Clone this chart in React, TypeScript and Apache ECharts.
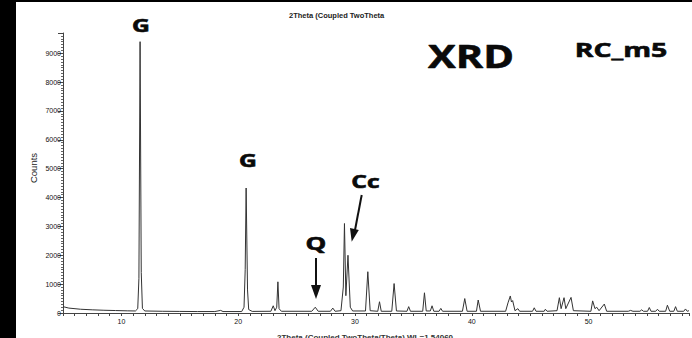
import React, { useEffect, useRef } from "react";
import * as echarts from "echarts";

const twoTheta = [
  5.0, 5.5, 6.5, 7.5, 8.5, 9.5, 10.5, 11.2, 11.4, 11.5, 11.6, 11.7, 11.8, 12.0,
  13.5, 15.0, 16.5, 18.0, 18.5, 18.7, 20.3, 20.5, 20.6, 20.68, 20.8, 20.9, 21.2,
  22.8, 23.0, 23.15, 23.3, 23.4, 23.5, 23.7,
  26.3, 26.6, 26.85, 27.9, 28.1, 28.3, 28.8, 29.0, 29.1, 29.22, 29.4, 29.6, 29.8,
  30.9, 31.1, 31.3, 31.95, 32.1, 32.25, 33.15, 33.35, 33.55, 34.45, 34.6, 34.75,
  35.8, 35.95, 36.1, 36.45, 36.6, 36.75, 37.2, 37.35, 37.5,
  39.2, 39.4, 39.6, 40.4, 40.55, 40.75,
  42.9, 43.1, 43.3, 43.4, 43.5, 43.7, 43.95, 44.1, 45.2, 45.35, 45.5, 46.2, 46.3, 46.45,
  47.3, 47.5, 47.65, 47.9, 48.05, 48.5, 48.7,
  50.2, 50.35, 50.55, 50.7, 50.9, 51.35, 51.55,
  53.4, 53.6, 53.8, 54.4, 54.55, 54.7, 55.05, 55.2, 55.35, 55.75, 55.9, 56.05,
  56.6, 56.75, 56.95, 57.3, 57.45, 57.6, 58.15, 58.3, 58.45, 58.6,
];
const counts = [
  220, 170, 130, 110, 95, 85, 75, 70, 150, 1200, 9400, 1400, 160, 70,
  60, 55, 50, 50, 90, 50, 50, 200, 1500, 4330, 800, 120, 55,
  60, 250, 80, 200, 1080, 150, 60,
  60, 200, 60, 60, 170, 60, 80, 900, 3100, 600, 2000, 200, 70,
  70, 1430, 80, 60, 390, 60, 60, 1020, 70, 60, 220, 60,
  60, 700, 70, 70, 250, 60, 60, 160, 60,
  60, 500, 60, 60, 450, 60,
  60, 350, 590, 380, 430, 80, 150, 60, 60, 180, 60, 60, 130, 60,
  80, 530, 150, 530, 150, 540, 80,
  60, 420, 150, 200, 80, 310, 60,
  60, 90, 60, 60, 110, 60, 60, 190, 60, 60, 130, 60,
  60, 270, 60, 60, 220, 60, 60, 140, 60, 80,
];

const xTickLabels = [10, 20, 30, 40, 50];
const yTickLabels = [0, 1000, 2000, 3000, 4000, 5000, 6000, 7000, 8000, 9000];

const phaseLabels = [
  { text: "G", x: 141, y: 25, size: 17 },
  { text: "G", x: 248, y: 160, size: 17 },
  { text: "Q", x: 316, y: 243, size: 18 },
  { text: "Cc", x: 365.5, y: 181, size: 17 },
];

export default function App() {
  const ref = useRef<HTMLDivElement>(null);
  useEffect(() => {
    if (!ref.current) return;
    const chart = echarts.init(ref.current, null, { renderer: "svg" });
    const data = twoTheta.map((t, i) => [t, counts[i]]);
    const boldFont = (size: number) => `bold ${size}px "Open Sans", "Noto Sans", sans-serif`;
    const textEl = (text: string, x: number, y: number, size: number, sx = 1.45) => ({
      type: "text",
      x,
      y,
      scaleX: sx,
      z: 100,
      style: {
        text,
        font: boldFont(size),
        fill: "#0a0a0a",
        stroke: "#0a0a0a",
        lineWidth: 0.6,
        align: "center",
        verticalAlign: "middle",
        textAlign: "center",
        textVerticalAlign: "middle",
      },
    });
    chart.setOption({
      animation: false,
      backgroundColor: "#fff",
      grid: { left: 63, right: 0, top: 33, bottom: 25 },
      xAxis: {
        type: "value",
        min: 5,
        max: 58.6,
        interval: 1,
        axisLine: { show: true, lineStyle: { color: "#444", width: 1 } },
        axisTick: { show: true, length: 3, lineStyle: { color: "#444" } },
        splitLine: { show: false },
        axisLabel: {
          fontSize: 7,
          color: "#111",
          fontFamily: "Liberation Sans, Arial, sans-serif",
          margin: 5,
          formatter: (v: number) =>
            xTickLabels.some((t) => Math.abs(t - v) < 1e-6) ? String(Math.round(v)) : "",
        },
      },
      yAxis: {
        type: "value",
        min: 0,
        max: 9700,
        interval: 1000,
        axisLine: { show: true, lineStyle: { color: "#444", width: 1 } },
        axisTick: { show: true, length: 5, lineStyle: { color: "#444" } },
        minorTick: { show: true, splitNumber: 10, length: 2, lineStyle: { color: "#666" } },
        splitLine: { show: false },
        axisLabel: {
          fontSize: 7,
          color: "#111",
          fontFamily: "Liberation Sans, Arial, sans-serif",
          margin: 2,
          formatter: (v: number) =>
            yTickLabels.some((t) => Math.abs(t - v) < 1e-6) ? String(Math.round(v)) : "",
        },
      },
      series: [
        {
          type: "line",
          data,
          showSymbol: false,
          lineStyle: { color: "#333", width: 1 },
          silent: true,
        },
      ],
      graphic: [
        { type: "rect", shape: { x: 0, y: 0, width: 16, height: 338 }, style: { fill: "#000" }, z: 100 },
        { type: "rect", shape: { x: 0, y: 0, width: 692, height: 2 }, style: { fill: "#000" }, z: 100 },
        ...phaseLabels.map((p) => textEl(p.text, p.x, p.y, p.size)),
        textEl("XRD", 471, 55, 32, 1.3),
        textEl("RC_m5", 621, 49, 20, 1.42),
        {
          type: "text",
          x: 289,
          y: 15,
          z: 100,
          style: {
            text: "2Theta (Coupled TwoTheta",
            font: 'bold 7.5px "Liberation Sans", Arial, sans-serif',
            fill: "#222",
            align: "left",
            verticalAlign: "middle",
            textAlign: "left",
            textVerticalAlign: "middle",
          },
        },
        {
          type: "text",
          x: 365,
          y: 333,
          z: 100,
          style: {
            text: "2Theta (Coupled TwoTheta/Theta) WL=1.54060",
            font: 'bold 8px "Liberation Sans", Arial, sans-serif',
            fill: "#333",
            align: "center",
            verticalAlign: "top",
            textAlign: "center",
            textVerticalAlign: "top",
          },
        },
        {
          type: "text",
          x: 33,
          y: 168,
          rotation: Math.PI / 2,
          z: 100,
          style: {
            text: "Counts",
            font: '9.5px "Liberation Sans", Arial, sans-serif',
            fill: "#222",
            align: "center",
            verticalAlign: "middle",
            textAlign: "center",
            textVerticalAlign: "middle",
          },
        },
        // Q arrow
        { type: "line", shape: { x1: 316, y1: 258, x2: 316, y2: 288 }, style: { stroke: "#111", lineWidth: 2 }, z: 100 },
        { type: "polygon", shape: { points: [[311, 285], [321, 285], [316, 299]] }, style: { fill: "#111" }, z: 100 },
        // Cc arrow
        { type: "line", shape: { x1: 361.7, y1: 195, x2: 355, y2: 230 }, style: { stroke: "#111", lineWidth: 2 }, z: 100 },
        { type: "polygon", shape: { points: [[358.8, 229.9], [350.0, 228.1], [351.7, 241.7]] }, style: { fill: "#111" }, z: 100 },
      ],
    });
    return () => chart.dispose();
  }, []);
  return (
    <div
      ref={ref}
      style={{ position: "fixed", left: 0, top: 0, width: 692, height: 338 }}
    />
  );
}
